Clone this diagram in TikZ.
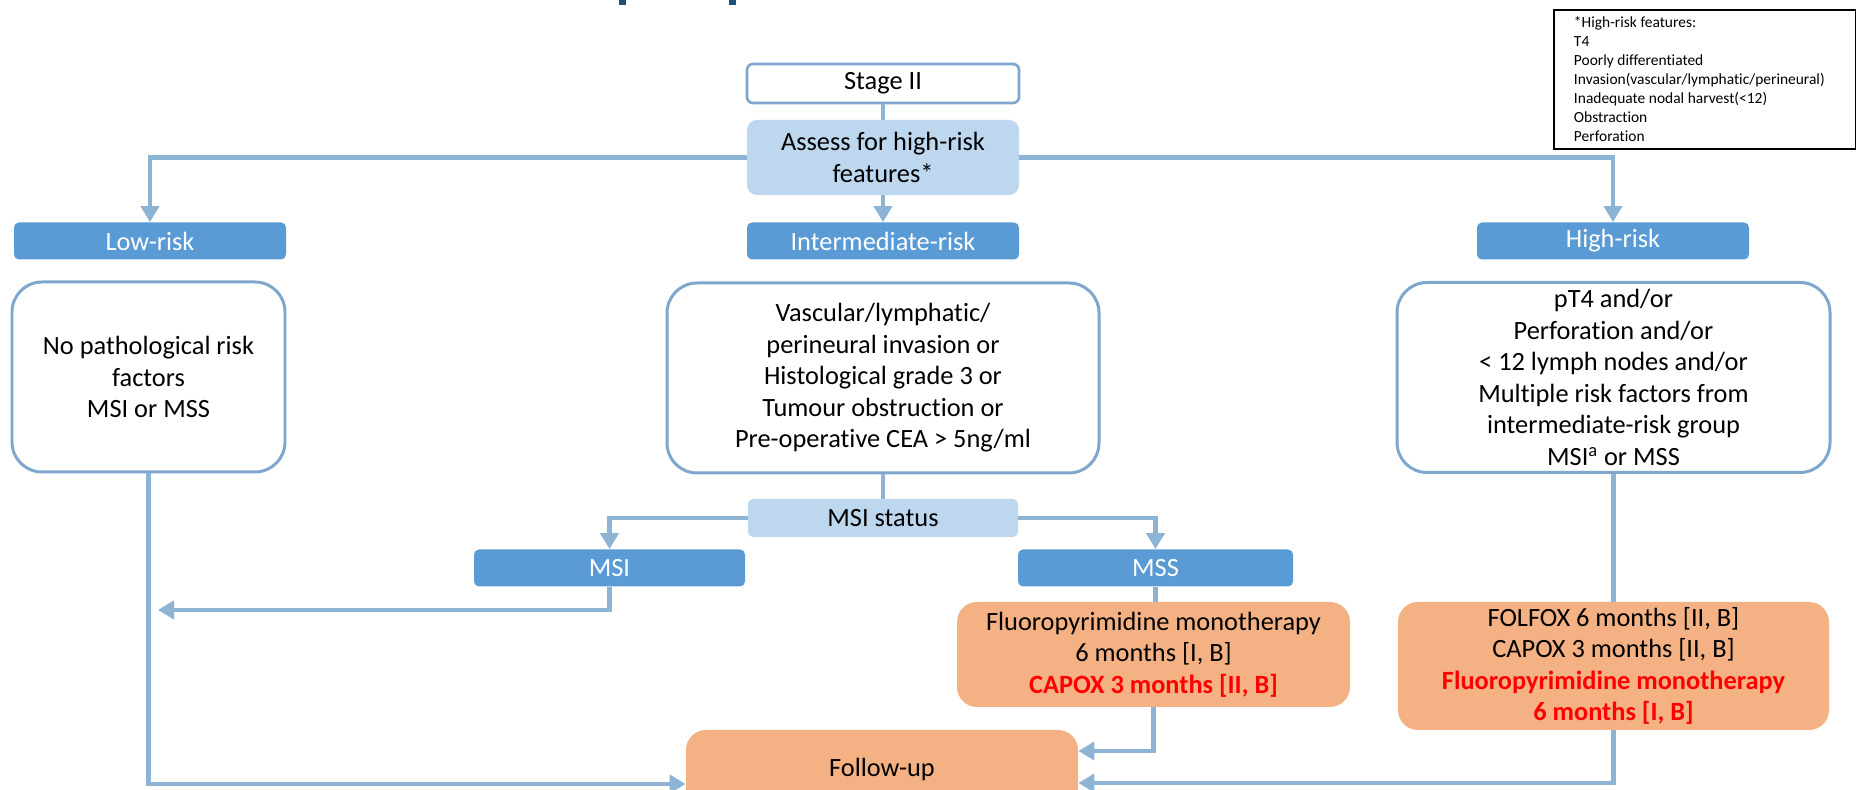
\documentclass[tikz,border=0pt]{standalone}
\usepackage{fontspec}
\setmainfont{Carlito}[Ligatures=NoCommon]
\usetikzlibrary{arrows.meta}

\definecolor{lnk}{RGB}{141,179,213}
\definecolor{bdr}{RGB}{127,167,206}
\definecolor{pale}{RGB}{189,215,238}
\definecolor{hd}{RGB}{91,155,213}
\definecolor{orng}{RGB}{244,177,131}
\definecolor{ttl}{RGB}{31,78,121}

\tikzset{
  txt/.style={font=\fontsize{15}{17.9}\selectfont, align=center, inner sep=0pt},
  wbox/.style={txt, draw=bdr, line width=1.7pt, fill=white, rounded corners=0.6cm},
  hdr/.style={txt, fill=hd, text=white, rounded corners=0.1cm, minimum width=5.44cm, minimum height=0.74cm},
  pbox/.style={txt, fill=pale, minimum width=5.44cm},
  obox/.style={txt, fill=orng, rounded corners=0.4cm},
  lnkline/.style={draw=lnk, line width=2.8pt},
  lnkarr/.style={lnkline, -{Triangle[width=0.36cm,length=0.32cm]}},
  legend/.style={draw=black, line width=1.1pt, align=flush left, inner xsep=0.4cm, inner ysep=0pt,
    font=\fontsize{8.8}{10.8}\selectfont, text width=5.24cm, minimum height=2.78cm}
}

\begin{document}
\begin{tikzpicture}
      \useasboundingbox (0,0) rectangle (37.12,15.8);
      \clip (0,0) rectangle (37.12,15.8);
      \fill[ttl] (12.38,15.8) rectangle (12.52,15.7);% title cut off
      \fill[ttl] (14.58,15.8) rectangle (14.72,15.7);

      \node[legend, anchor=north west] (feat) at (31.06,15.62) {*High-risk features:\\T4\\Poorly differentiated\\Invasion(vascular/lymphatic/perineural)\\Inadequate nodal harvest(<12)\\Obstraction\\Perforation};

      \node[wbox, line width=1.5pt, rounded corners=0.12cm, minimum width=5.44cm, minimum height=0.78cm] (stage) at (17.66,14.13) {Stage II};
      \node[pbox, rounded corners=0.2cm, minimum height=1.5cm] (assess) at (17.66,12.65) {Assess for high-risk\\features*};

      \node[hdr] (lowhd) at (3.0,10.98) {Low-risk};
      \node[hdr] (midhd) at (17.66,10.98) {Intermediate-risk};
      \node[hdr] (highhd) at (32.26,10.98) {High-risk};

      \node[wbox, minimum width=5.46cm, minimum height=3.8cm] (lowbox) at (2.97,8.26) {No pathological risk\\factors\\MSI or MSS};
      \node[wbox, minimum width=8.64cm, minimum height=3.8cm] (midbox) at (17.66,8.24) {Vascular/lymphatic/\\perineural invasion or\\Histological grade 3 or\\Tumour obstruction or\\Pre-operative CEA > 5ng/ml};
      \node[wbox, minimum width=8.66cm, minimum height=3.8cm] (highbox) at (32.27,8.25) {pT4 and/or\\Perforation and/or\\< 12 lymph nodes and/or\\Multiple risk factors from\\intermediate-risk group\\MSI\textsuperscript{a} or MSS};

      \node[pbox, rounded corners=0.1cm, minimum width=5.4cm, minimum height=0.76cm] (msistat) at (17.66,5.44) {MSI status};
      \node[hdr, minimum width=5.42cm] (msi) at (12.19,4.44) {MSI};
      \node[hdr, minimum width=5.5cm] (mss) at (23.11,4.44) {MSS};

      \node[obox, minimum width=7.86cm, minimum height=2.1cm] (msstx) at (23.07,2.71) {Fluoropyrimidine monotherapy\\6 months [I, B]\\{\color{red}\bfseries CAPOX 3 months [II, B]}};
      \node[obox, minimum width=8.62cm, minimum height=2.56cm] (hightx) at (32.27,2.48) {FOLFOX 6 months [II, B]\\CAPOX 3 months [II, B]\\{\color{red}\bfseries Fluoropyrimidine monotherapy}\\{\color{red}\bfseries 6 months [I, B]}};
      \node[obox, minimum width=7.84cm, minimum height=1.56cm] (follow) at (17.64,0.42) {Follow-up};
      \coordinate (msiend) at (3.16,3.6);

      \draw[lnkline] (stage) -- (assess);%stage-assess
      \draw[lnkarr] (assess) -- (midhd);%assess-mid
      \draw[lnkarr] (assess.west) -| (lowhd.north);%assess-low
      \draw[lnkarr] (assess.east) -| (highhd.north);%assess-high
      \draw[lnkline] (midbox) -- (msistat);%mid-status
      \draw[lnkarr] (msistat.west) -| (msi.north);%status-msi
      \draw[lnkarr] (msistat.east) -| (mss.north);%status-mss
      \draw[lnkline] (mss.south) -- (mss.south |- msstx.north);%mss-tx
      \draw[lnkline] (highbox) -- (highbox.south |- hightx.north);%high-tx
      \draw[lnkarr] (msi.south) |- (msiend);%msi-low line
      \draw[lnkarr] (lowbox.south) |- ([yshift=-0.3cm]follow.west);%low-follow
      \draw[lnkarr] (msstx.south) |- ([yshift=0.36cm]follow.east);%mss-follow
      \draw[lnkarr] (hightx.south) |- ([yshift=-0.28cm]follow.east);%high-follow
\end{tikzpicture}
\end{document}
